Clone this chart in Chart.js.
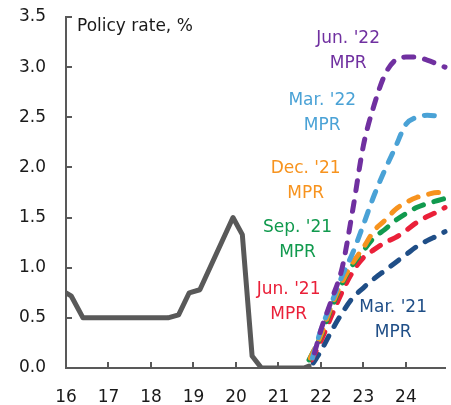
<!DOCTYPE html>
<html>
<head>
<meta charset="utf-8">
<script src="https://cdn.jsdelivr.net/npm/chart.js@4/dist/chart.umd.min.js"></script>
<style>
  html, body { margin: 0; padding: 0; background: #ffffff; }
  #wrap { width: 451px; height: 405px; position: relative; }
</style>
</head>
<body>
<div id="wrap"><canvas id="c" width="451" height="405"></canvas></div>
<script>
// ---- Data (years as decimal, policy rate in %) ----
const yTicks = [0, 0.5, 1.0, 1.5, 2.0, 2.5, 3.0, 3.5];
const xTickYears = [16, 17, 18, 19, 20, 21, 22, 23, 24];

const historyX = [16.0, 16.12, 16.4, 18.4, 18.65, 18.9, 19.15, 19.93, 20.15, 20.38, 20.6, 21.6, 21.72];
const historyY = [0.75, 0.72, 0.5, 0.5, 0.53, 0.75, 0.78, 1.5, 1.33, 0.12, 0.0, 0.0, 0.02];

const mar21X = [21.82, 22.0, 22.25, 22.5, 22.75, 23.0, 23.25, 23.5, 23.75, 24.0, 24.25, 24.5, 24.75, 24.92];
const mar21Y = [0.05, 0.17, 0.37, 0.55, 0.7, 0.8, 0.89, 0.97, 1.05, 1.13, 1.21, 1.27, 1.32, 1.36];

const jun21X = [21.78, 22.0, 22.25, 22.5, 22.75, 23.0, 23.25, 23.5, 23.75, 24.0, 24.25, 24.5, 24.75, 24.92];
const jun21Y = [0.08, 0.27, 0.52, 0.76, 0.96, 1.1, 1.18, 1.25, 1.3, 1.37, 1.45, 1.51, 1.56, 1.6];

const sep21X = [21.72, 22.0, 22.25, 22.5, 22.75, 23.0, 23.25, 23.5, 23.75, 24.0, 24.25, 24.5, 24.75, 24.92];
const sep21Y = [0.08, 0.32, 0.6, 0.84, 1.03, 1.17, 1.3, 1.38, 1.47, 1.54, 1.6, 1.64, 1.67, 1.69];

const dec21X = [21.75, 22.0, 22.25, 22.5, 22.75, 23.0, 23.25, 23.5, 23.75, 24.0, 24.25, 24.5, 24.75, 24.92];
const dec21Y = [0.1, 0.33, 0.62, 0.86, 1.05, 1.2, 1.37, 1.47, 1.58, 1.65, 1.7, 1.73, 1.75, 1.75];

const mar22X = [21.8, 22.0, 22.25, 22.5, 22.75, 23.0, 23.25, 23.5, 23.75, 24.0, 24.25, 24.5, 24.75, 24.92];
const mar22Y = [0.1, 0.38, 0.65, 0.92, 1.15, 1.43, 1.72, 1.97, 2.2, 2.43, 2.5, 2.52, 2.51, 2.49];

const jun22X = [21.85, 22.0, 22.25, 22.5, 22.75, 23.0, 23.25, 23.5, 23.75, 24.0, 24.25, 24.5, 24.75, 24.92];
const jun22Y = [0.15, 0.38, 0.68, 1.0, 1.58, 2.22, 2.62, 2.92, 3.07, 3.1, 3.1, 3.07, 3.03, 3.0];

const seriesNames = ["Jun. '22", "Mar. '22", "Dec. '21", "Sep. '21", "Jun. '21", "Mar. '21"];

// ---- Styles ----
const COLORS = {
  jun22: '#7030a0', mar22: '#4aa2d6', dec21: '#f7931e',
  sep21: '#119a4e', jun21: '#ea2039', mar21: '#1f4e87', hist: '#595959'
};
const FONT = 'DejaVu Sans';

function pts(xs, ys) { return xs.map((x, i) => ({ x: x, y: ys[i] })); }

function dashed(label, xs, ys, color) {
  return {
    label: label, data: pts(xs, ys), borderColor: color, backgroundColor: color,
    borderWidth: 5, borderDash: [10, 11], borderCapStyle: 'round', borderJoinStyle: 'round',
    pointRadius: 0, cubicInterpolationMode: 'monotone', fill: false, clip: false
  };
}

// label anchors in data units (year, rate), two lines each
const labelSpecs = [
  { text: [seriesNames[0], 'MPR'], x: 22.64, y: 3.28, color: COLORS.jun22 },
  { text: [seriesNames[1], 'MPR'], x: 22.03, y: 2.67, color: COLORS.mar22 },
  { text: [seriesNames[2], 'MPR'], x: 21.64, y: 1.99, color: COLORS.dec21 },
  { text: [seriesNames[3], 'MPR'], x: 21.45, y: 1.40, color: COLORS.sep21 },
  { text: [seriesNames[4], 'MPR'], x: 21.24, y: 0.78, color: COLORS.jun21 },
  { text: [seriesNames[5], 'MPR'], x: 23.70, y: 0.60, color: COLORS.mar21 }
];

const decorPlugin = {
  id: 'decor',
  afterDraw(chart) {
    const ctx = chart.ctx;
    const xs = chart.scales.x, ys = chart.scales.y;
    const area = chart.chartArea;
    ctx.save();
    // inward tick marks
    ctx.strokeStyle = COLORS.hist;
    ctx.lineWidth = 2;
    ctx.beginPath();
    xTickYears.forEach(v => {
      if (v === xs.min) return;
      const px = Math.round(xs.getPixelForValue(v));
      ctx.moveTo(px, area.bottom);
      ctx.lineTo(px, area.bottom - 6);
    });
    yTicks.forEach(v => {
      if (v === ys.min) return;
      const py = Math.round(ys.getPixelForValue(v));
      ctx.moveTo(area.left, py);
      ctx.lineTo(area.left + 6, py);
    });
    ctx.stroke();
    // axis title inside plot
    ctx.fillStyle = '#1a1a1a';
    ctx.font = '17px "' + FONT + '"';
    ctx.textAlign = 'left';
    ctx.textBaseline = 'middle';
    ctx.fillText('Policy rate, %', area.left + 11, area.top + 10);
    // series labels
    ctx.textAlign = 'center';
    labelSpecs.forEach(s => {
      ctx.fillStyle = s.color;
      const px = xs.getPixelForValue(s.x);
      const py = ys.getPixelForValue(s.y);
      s.text.forEach((t, i) => ctx.fillText(t, px, py + i * 25));
    });
    ctx.restore();
  }
};

new Chart(document.getElementById('c'), {
  type: 'line',
  data: {
    datasets: [
      dashed("Jun. '22 MPR", jun22X, jun22Y, COLORS.jun22),
      dashed("Mar. '22 MPR", mar22X, mar22Y, COLORS.mar22),
      dashed("Dec. '21 MPR", dec21X, dec21Y, COLORS.dec21),
      dashed("Sep. '21 MPR", sep21X, sep21Y, COLORS.sep21),
      dashed("Jun. '21 MPR", jun21X, jun21Y, COLORS.jun21),
      dashed("Mar. '21 MPR", mar21X, mar21Y, COLORS.mar21),
      {
        label: 'Policy rate', data: pts(historyX, historyY), borderColor: COLORS.hist,
        borderWidth: 5, pointRadius: 0, tension: 0, borderJoinStyle: 'round', borderCapStyle: 'round', fill: false
      }
    ]
  },
  options: {
    responsive: false,
    animation: false,
    devicePixelRatio: 1,
    layout: { padding: { left: 0, right: 6, top: 17, bottom: 0 } },
    plugins: { legend: { display: false }, tooltip: { enabled: false }, title: { display: false } },
    scales: {
      x: {
        type: 'linear', min: 16, max: 24.92,
        afterBuildTicks(scale) { scale.ticks = xTickYears.map(v => ({ value: v })); },
        afterFit(scale) { scale.height = 37; scale.paddingLeft = 0; scale.paddingRight = 0; },
        grid: { display: false, drawTicks: false },
        border: { display: true, color: COLORS.hist, width: 2 },
        ticks: { padding: 19, color: '#1a1a1a', font: { family: FONT, size: 17 }, maxRotation: 0, autoSkip: false,
          callback: v => String(v) }
      },
      y: {
        type: 'linear', min: 0, max: 3.5,
        afterBuildTicks(scale) { scale.ticks = yTicks.map(v => ({ value: v })); },
        afterFit(scale) { scale.width = 66; scale.paddingTop = 0; scale.paddingBottom = 0; },
        grid: { display: false, drawTicks: false },
        border: { display: true, color: COLORS.hist, width: 2 },
        ticks: { padding: 20, color: '#1a1a1a', font: { family: FONT, size: 17 },
          callback: v => Number(v).toFixed(1) }
      }
    }
  },
  plugins: [decorPlugin]
});
</script>
</body>
</html>
